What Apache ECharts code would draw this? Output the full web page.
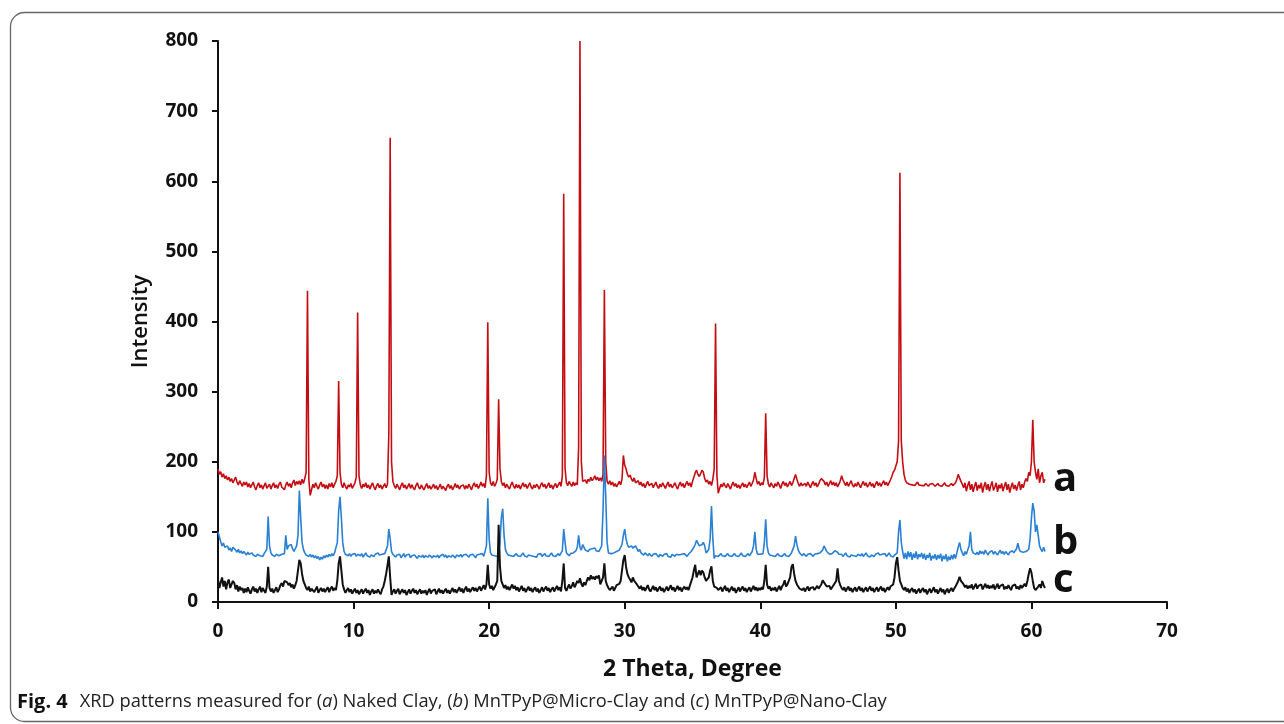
<!DOCTYPE html>
<html>
<head>
<meta charset="utf-8">
<script src="https://cdn.jsdelivr.net/npm/echarts@6/dist/echarts.min.js"></script>
<style>
html,body{margin:0;padding:0;background:#fff;}
#chart{width:1284px;height:724px;}
</style>
</head>
<body>
<div id="chart"></div>
<script>
// 2θ sampling: one value every 0.1° from 0.0° to 61.0°
const twoThetaStart = 0;
const twoThetaStep = 0.1;
const xTicks = [0, 10, 20, 30, 40, 50, 60, 70];
const yTicks = [0, 100, 200, 300, 400, 500, 600, 700, 800];
const seriesNames = ['a', 'b', 'c'];

// (a) Naked Clay
const intensityA = [
190,182,186,178,183,176,180,174,178,172,
176,170,174,178,171,167,173,169,165,171,
167,171,164,169,163,167,171,164,160,166,
170,163,167,161,166,170,162,165,168,161,
166,170,163,167,162,168,171,164,166,160,
167,171,165,169,163,170,174,166,172,168,
173,167,175,169,176,185,444,175,152,160,
168,163,170,165,161,167,171,164,168,162,
167,161,169,164,170,163,168,172,180,315,
185,168,163,170,165,161,167,164,169,162,
166,170,178,413,180,167,162,168,164,170,
163,167,161,166,170,164,160,166,169,163,
167,161,165,169,163,168,240,662,200,172,
166,162,168,164,160,166,170,163,167,161,
165,169,162,167,163,160,166,170,164,161,
167,163,160,165,169,162,166,161,164,168,
162,166,160,164,168,161,165,163,159,165,
168,162,166,160,164,169,163,167,161,165,
163,167,161,166,162,168,164,160,166,170,
164,168,162,166,171,165,169,163,180,399,
185,170,166,172,165,169,175,289,190,172,
166,170,163,168,164,161,167,171,165,162,
168,163,167,161,166,170,164,168,162,166,
170,164,161,167,163,168,165,161,167,170,
164,168,162,166,170,163,167,161,166,169,
163,167,171,165,180,582,190,170,166,172,
168,165,171,166,170,167,220,800,200,172,
170,174,169,175,172,178,173,176,180,174,
178,173,177,172,182,445,200,172,168,173,
167,171,165,169,164,168,172,167,175,209,
195,190,182,178,181,175,172,177,170,168,
173,167,171,165,169,163,168,172,166,164,
169,163,167,171,165,162,168,164,170,166,
162,167,171,164,168,163,166,170,165,161,
167,171,165,169,163,168,172,166,170,164,
172,178,184,188,182,179,183,188,185,176,
171,174,168,172,166,175,190,397,180,155,
162,168,164,170,166,163,169,165,161,167,
171,165,169,163,167,162,166,170,164,168,
163,167,171,165,169,174,185,176,168,172,
166,170,167,178,269,180,168,164,170,166,
163,169,165,171,167,162,168,172,166,170,
164,168,172,166,170,176,182,175,169,165,
170,166,164,169,165,171,167,163,168,172,
166,170,164,168,173,176,178,172,167,171,
165,169,173,167,171,166,170,164,168,173,
180,174,170,166,171,165,169,173,167,164,
169,165,171,167,163,168,172,166,170,164,
167,171,165,169,163,168,172,166,170,165,
169,173,167,171,166,170,174,179,185,188,
190,200,230,612,230,200,182,174,170,172,
168,170,167,169,166,168,171,167,169,166,
168,166,169,167,165,168,166,169,167,165,
167,169,166,168,165,167,170,166,168,165,
167,169,166,168,170,175,182,177,172,168,
163,170,158,166,172,160,168,157,165,171,
159,167,162,170,156,165,171,160,168,158,
166,172,159,164,170,157,167,162,169,158,
165,171,160,168,156,164,170,161,167,159,
166,172,160,168,163,171,176,172,185,180,
200,260,200,185,175,190,170,180,185,170,
175
];

// (b) MnTPyP@Micro-Clay
const intensityB = [
100,93,86,80,84,78,76,80,74,77,
72,78,80,74,71,75,70,73,69,72,
70,67,71,68,66,70,67,69,65,68,
70,66,68,65,69,67,75,122,80,70,
67,69,65,68,70,66,64,68,66,69,
95,75,80,78,82,76,72,74,80,95,
159,120,85,75,70,67,69,65,68,64,
67,63,66,62,65,60,64,61,66,63,
67,64,68,65,69,66,70,72,85,130,
150,120,85,72,68,70,66,69,65,68,
66,69,65,68,70,66,69,64,67,70,
66,68,64,67,69,65,68,66,70,67,
65,68,66,69,67,80,104,90,72,68,
66,64,67,65,68,63,66,69,64,67,
65,68,63,66,64,67,65,62,66,68,
64,67,63,66,68,64,67,65,63,66,
68,64,67,63,66,65,68,64,67,63,
66,68,64,67,65,63,67,69,65,68,
64,67,65,68,66,64,67,65,68,66,
63,67,65,68,66,69,65,67,80,148,
90,70,67,69,66,68,65,70,85,120,
133,95,75,70,67,69,66,68,65,67,
69,66,68,65,67,70,66,68,64,67,
69,66,68,65,67,64,68,66,69,65,
67,69,66,68,65,67,70,66,68,65,
67,69,66,70,73,104,85,70,68,66,
69,67,70,68,73,78,95,78,74,82,
78,74,76,72,75,73,76,74,77,73,
75,72,74,80,130,209,150,85,70,68,
69,67,70,68,72,71,74,76,82,95,
104,90,82,78,76,80,77,75,80,76,
72,75,70,69,67,70,68,66,69,67,
65,68,66,69,67,64,68,66,65,68,
66,69,65,67,64,68,66,65,68,66,
67,65,68,66,69,67,65,68,70,72,
74,78,82,88,84,80,78,82,85,80,
70,72,75,90,137,90,62,66,68,65,
67,69,66,68,65,67,69,66,68,65,
67,69,66,68,65,67,70,66,68,65,
67,69,66,68,72,80,100,75,68,66,
68,66,69,85,118,80,70,67,69,66,
68,65,67,69,66,68,65,67,69,66,
68,65,67,70,72,80,94,82,74,70,
68,66,69,67,65,68,66,69,67,65,
68,66,69,67,70,72,74,80,76,72,
70,68,67,69,71,73,75,71,68,66,
68,65,67,70,66,68,64,67,69,66,
67,65,68,70,66,69,65,67,70,66,
68,64,67,69,65,68,66,70,67,65,
68,66,69,65,67,70,66,68,64,67,
68,70,100,117,85,72,62,70,61,72,
64,71,60,69,63,72,61,68,64,70,
62,69,60,67,63,70,59,66,62,68,
60,67,62,69,58,66,61,68,58,65,
60,67,61,68,62,70,78,85,75,70,
66,72,68,74,80,100,75,70,72,68,
71,67,73,69,72,68,74,70,67,71,
69,73,68,72,70,67,71,74,69,72,
68,72,70,67,71,69,73,70,72,76,
84,75,72,70,71,69,72,74,75,90,
120,141,130,100,110,95,80,75,72,78,
72
];

// (c) MnTPyP@Nano-Clay
const intensityC = [
32,20,28,35,22,30,18,28,32,20,
25,30,27,18,24,15,22,17,20,13,
19,14,21,16,12,18,22,15,19,13,
18,22,14,20,16,13,22,50,20,15,
19,13,17,21,14,18,24,27,22,30,
32,28,24,27,21,25,19,24,30,45,
60,55,40,30,25,20,17,22,15,19,
21,14,18,22,13,17,20,15,19,14,
18,21,14,19,22,16,20,17,30,55,
65,45,25,18,13,17,20,14,18,12,
16,19,13,17,11,15,18,12,16,19,
13,17,10,15,18,12,16,13,18,14,
11,18,22,30,40,52,65,35,10,15,
18,12,16,19,11,15,18,13,17,10,
14,18,12,16,19,13,17,11,15,18,
12,16,13,17,10,15,19,12,16,14,
18,11,15,19,13,17,12,16,19,13,
17,12,16,20,14,18,13,17,21,15,
19,13,18,22,15,19,14,18,21,16,
20,15,19,22,16,20,24,18,25,53,
25,19,23,17,21,25,30,110,50,30,
25,20,24,18,22,17,21,25,19,23,
17,21,15,19,23,16,20,14,18,22,
16,20,14,18,21,15,19,13,17,21,
15,19,22,16,20,14,18,21,15,19,
23,17,21,15,30,55,20,16,21,25,
19,23,28,21,25,30,27,34,26,22,
28,24,30,35,31,38,33,36,32,37,
34,38,25,30,35,55,30,24,20,17,
18,22,16,20,24,22,26,30,45,60,
67,50,40,35,32,28,35,30,28,25,
22,19,23,17,21,16,20,24,18,15,
19,23,17,21,15,19,22,16,20,14,
18,22,16,20,24,17,21,15,19,23,
17,21,15,19,22,18,21,17,23,25,
35,45,53,35,40,45,38,45,42,35,
30,28,35,45,51,30,22,24,20,17,
18,21,15,19,23,16,20,14,18,22,
16,20,13,17,21,15,19,22,16,20,
14,18,21,15,19,23,17,21,16,20,
17,21,18,30,53,25,19,22,16,20,
17,21,15,19,23,17,22,25,31,22,
25,30,35,50,54,40,30,25,22,19,
21,17,20,15,19,22,16,20,18,21,
17,20,23,19,22,25,31,28,25,22,
20,23,18,21,24,27,30,48,30,24,
20,17,21,15,19,22,16,20,14,18,
21,15,19,22,16,20,14,18,21,15,
19,22,16,20,14,18,21,15,19,22,
16,20,14,18,21,17,22,20,25,35,
55,64,45,30,25,20,17,21,15,19,
13,17,20,14,18,12,16,19,13,17,
20,14,18,11,16,19,13,17,21,14,
18,12,16,20,14,18,11,16,19,13,
17,20,15,19,22,26,30,36,30,28,
25,21,24,19,23,20,25,18,22,26,
19,23,21,25,18,22,26,20,24,19,
23,20,25,18,22,26,19,23,21,25,
18,22,19,24,20,17,23,21,25,19,
22,18,24,20,23,26,22,30,40,48,
42,30,20,17,15,22,25,20,30,24,
20
];

function pairs(vals) {
  return vals.map(function (v, i) {
    return [+(twoThetaStart + i * twoThetaStep).toFixed(1), v];
  });
}

const chart = echarts.init(document.getElementById('chart'), null, {renderer: 'canvas'});
const tickFont = {fontFamily: 'Open Sans', fontWeight: 'bold', fontSize: 19, color: '#111'};
const colors = ['#c40d12', '#2a80d2', '#111111'];
const widths = [1.6, 1.6, 2.0];
const labelOffsets = [[0, 0], [0, -9], [0, -7]];
const allData = [intensityA, intensityB, intensityC];

chart.setOption({
  animation: false,
  backgroundColor: '#ffffff',
  grid: {left: 218, right: 117, top: 41, bottom: 122, containLabel: false},
  xAxis: {
    type: 'value', min: xTicks[0], max: xTicks[xTicks.length - 1], interval: 10,
    name: '2 Theta, Degree', nameLocation: 'middle', nameGap: 56,
    nameTextStyle: {fontFamily: 'Open Sans', fontWeight: 'bold', fontSize: 23, color: '#111'},
    axisLine: {show: true, lineStyle: {color: '#111', width: 2}},
    axisTick: {show: true, inside: false, length: 7, lineStyle: {color: '#111', width: 2}},
    axisLabel: Object.assign({margin: 20}, tickFont),
    splitLine: {show: false}
  },
  yAxis: {
    type: 'value', min: yTicks[0], max: yTicks[yTicks.length - 1], interval: 100,
    name: 'Intensity', nameLocation: 'middle', nameGap: 66,
    nameTextStyle: {fontFamily: 'Open Sans', fontWeight: 600, fontSize: 22, color: '#111'},
    axisLine: {show: true, lineStyle: {color: '#111', width: 2}},
    axisTick: {show: true, inside: false, length: 6, lineStyle: {color: '#111', width: 2}},
    axisLabel: Object.assign({margin: 20}, tickFont),
    splitLine: {show: false}
  },
  series: seriesNames.map(function (nm, k) {
    return {
      name: nm, type: 'line', data: pairs(allData[k]),
      showSymbol: false, symbol: 'none', sampling: false,
      z: 2 + k,
      lineStyle: {color: colors[k], width: widths[k]},
      endLabel: {
        show: true, formatter: nm, distance: 8, offset: labelOffsets[k],
        fontFamily: 'Open Sans', fontWeight: 'bold', fontSize: 40, color: '#111'
      }
    };
  }),
  graphic: [
    {type: 'rect', silent: true, z: 0,
     shape: {x: 10.5, y: 12.5, width: 1320, height: 709, r: 14},
     style: {fill: 'none', stroke: '#666', lineWidth: 1.3}},
    {type: 'text', left: 17, top: 692, z: 10,
     style: {
       text: '{b|Fig. 4}{g| }{n|XRD patterns measured for (}{i|a}{n|) Naked Clay, (}{i|b}{n|) MnTPyP@Micro-Clay and (}{i|c}{n|) MnTPyP@Nano-Clay}',
       rich: {
         b: {fontFamily: 'Open Sans', fontWeight: 'bold', fontSize: 20, fill: '#111'},
         g: {fontSize: 18, width: 12},
         n: {fontFamily: 'Open Sans', fontSize: 18.3, fill: '#222'},
         i: {fontFamily: 'Open Sans', fontStyle: 'italic', fontSize: 18.3, fill: '#222'}
       }
     }}
  ]
});
</script>
</body>
</html>
